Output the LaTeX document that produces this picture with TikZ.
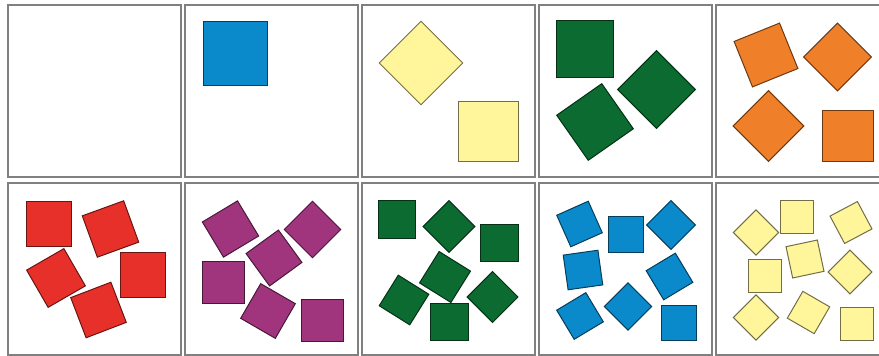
\documentclass[tikz,border=0pt]{standalone}
\definecolor{sqblue}{RGB}{10,138,203}
\definecolor{sqyellow}{RGB}{255,245,155}
\definecolor{sqgreen}{RGB}{11,107,48}
\definecolor{sqorange}{RGB}{240,127,42}
\definecolor{sqred}{RGB}{232,48,42}
\definecolor{sqpurple}{RGB}{160,53,126}
\begin{document}
\begin{tikzpicture}[x=1pt,y=-1pt,
cell/.style={draw=black!50,line width=1.3pt},
tile/.style={rectangle,draw=#1!45!black,fill=#1,line width=1pt,inner sep=0pt}]
\useasboundingbox (0,0) rectangle (879,356);
\foreach \c in {0,...,4}{
\draw[cell] ({8+177*\c},5) rectangle +(173,172);
\draw[cell] ({8+177*\c},183) rectangle +(173,172);}
\node[tile=sqblue,minimum size=64] (blue0) at (235,53.5) {};
\foreach \x/\y/\s/\a [count=\i] in {421/63/59/45,488/131/60/0}
\node[tile=sqyellow,minimum size=\s,rotate=\a] (yel\i) at (\x,\y) {};
\foreach \x/\y/\s/\a [count=\i] in {584.5/49/57/0,595/122/55/35,656.5/89.5/55/45}
\node[tile=sqgreen,minimum size=\s,rotate=\a] (grn\i) at (\x,\y) {};
\foreach \x/\y/\s/\a [count=\i] in {766/55/49/22,837.5/57/48/45,768.5/126/50/45,847.5/136/51/0}
\node[tile=sqorange,minimum size=\s,rotate=\a] (org\i) at (\x,\y) {};
\foreach \x/\y/\s/\a [count=\i] in {48.5/223.5/45/0,110.5/229/44/20,56/278/43/30,
142.5/274.5/45/0,98.5/310/43/21}
\node[tile=sqred,minimum size=\s,rotate=\a] (red\i) at (\x,\y) {};
\foreach \x/\y/\s/\a [count=\i] in {230.5/229/41/31,312.5/229.5/40/45,274/258/40/36,
223.5/282.5/42/0,268/311/40/-30,322/320/42/0}
\node[tile=sqpurple,minimum size=\s,rotate=\a] (pur\i) at (\x,\y) {};
\foreach \x/\y/\s/\a [count=\i] in {397/219.5/37.5/0,449/226.5/36.5/45,499.5/243/37.5/0,
445/277/37/-32,404/300/36/-32,449.5/322/37.5/0,492.5/297/36/45}
\node[tile=sqgreen,minimum size=\s,rotate=\a] (grs\i) at (\x,\y) {};
\foreach \x/\y/\s/\a [count=\i] in {579.5/224/34.5/24,626/234.5/35.5/0,671/225/34.5/45,
583/270/35/8,669.5/276.5/34/31,580/316/34/31,628/306.5/33.5/45,678.5/322.5/35/0}
\node[tile=sqblue,minimum size=\s,rotate=\a] (blu\i) at (\x,\y) {};
\foreach \x/\y/\s/\a [count=\i] in {756/232.5/32/45,796.5/217/33/0,851/222.5/31/28,
805/259/32/12,764.5/275.5/33/0,850/272/31/45,756/317.5/32/45,808.5/312.5/31/-30,857/324/33/0}
\node[tile=sqyellow,minimum size=\s,rotate=\a] (yls\i) at (\x,\y) {};
\end{tikzpicture}
\end{document}
